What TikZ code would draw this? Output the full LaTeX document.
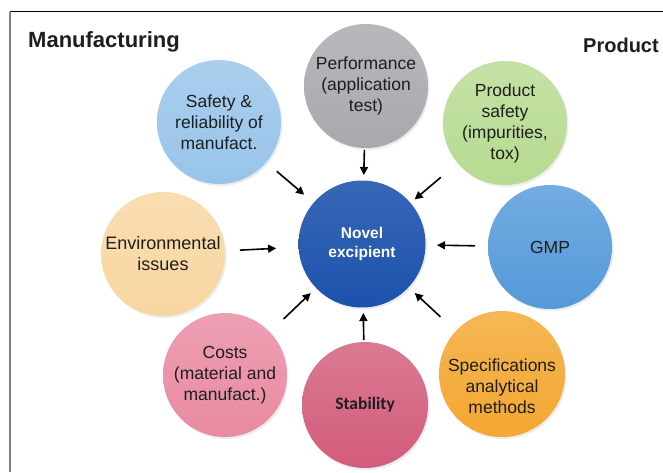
\documentclass[tikz,border=0pt]{standalone}
\usepackage{fontspec}
\setmainfont{Liberation Sans}
\newfontfamily\carlito{Carlito}
\usetikzlibrary{arrows.meta,calc,shadows}
\definecolor{txt}{HTML}{1E1E1E}
\definecolor{cgrey}{HTML}{A8A9AC}
\definecolor{csafe}{HTML}{98C4EA}
\definecolor{cgreen}{HTML}{B7DB91}
\definecolor{cpeach}{HTML}{F8D6A0}
\definecolor{cnovel}{HTML}{1C52AC}
\definecolor{cgmp}{HTML}{5499DA}
\definecolor{ccost}{HTML}{E98AA2}
\definecolor{cstab}{HTML}{D25C7B}
\definecolor{cspec}{HTML}{F3A730}
\tikzset{
  bubble/.style={circle, minimum size=124pt, inner sep=0pt, outer sep=0pt,
    top color=#1!82!white, bottom color=#1,
    drop shadow={opacity=0.15, shadow xshift=1.5pt, shadow yshift=-2pt},
    text=txt, align=center, font=\fontsize{17.5}{21}\selectfont},
  inarrow/.style={line width=1.6pt, -{Triangle[length=8pt,width=8pt]}},
  heading/.style={anchor=base west, inner sep=0pt, text=txt}
}
\begin{document}
\begin{tikzpicture}[x=1pt,y=1pt]
\useasboundingbox (0,0) rectangle (663,472);
% frame
\coordinate (fTL) at (10,460);
\coordinate (fTR) at (663,460);
\coordinate (fBL) at (10,0);
\draw[black, line width=1pt] (fTL) -- (fTR);
\draw[gray, line width=1.6pt] (fTL) -- (fBL);
% headings
\node[heading, font=\fontsize{22}{26}\selectfont\bfseries] (manu) at (28,424) {Manufacturing};
\node[heading, font=\fontsize{20}{24}\selectfont\bfseries] (prod) at (583,419) {Product};
% circles
\node[bubble=cgrey] (perf) at (366,386) {Performance\\(application\\test)};
\node[bubble=csafe] (safe) at (219,350) {Safety \&\\reliability of\\manufact.};
\node[bubble=cgreen] (green) at (505,349) {Product\\safety\\(impurities,\\tox)};
\node[bubble=cpeach, font=\fontsize{18}{21}\selectfont] (env) at (163,218) {Environmental\\issues};
\node[bubble=cnovel, top color=cnovel!88!white, minimum size=127pt, text=white, font=\fontsize{15.5}{18.5}\selectfont\bfseries] (novel) at (362,228) {Novel\\excipient};
\node[bubble=cgmp] (gmp) at (550,225) {GMP};
\node[bubble=ccost] (cost) at (225,97) {Costs\\(material and\\manufact.)};
\node[bubble=cstab, minimum size=126pt, font=\carlito\bfseries\fontsize{17.5}{20}\selectfont] (stab) at (365,67) {Stability};
\node[bubble=cspec, minimum size=126pt] (spec) at (502,98) {};
\node[text=txt, align=center, font=\fontsize{17.5}{21}\selectfont] (spect) at ($(spec)+(0,-12)$) {Specifications\\analytical\\methods};
% arrows
\draw[inarrow] ($(perf.center)!64pt!(novel.center)$) -- ($(novel.center)!69pt!(perf.center)$);
\draw[inarrow] ($(safe.center)!76pt!(novel.center)$) -- ($(novel.center)!76pt!(safe.center)$);
\draw[inarrow] ($(green.center)!84pt!(novel.center)$) -- ($(novel.center)!69pt!(green.center)$);
\draw[inarrow] ($(env.center)!77pt!(novel.center)$) -- ($(novel.center)!86pt!(env.center)$);
\draw[inarrow] ($(gmp.center)!75pt!(novel.center)$) -- ($(novel.center)!75pt!(gmp.center)$);
\draw[inarrow] ($(cost.center)!81pt!(novel.center)$) -- ($(novel.center)!71pt!(cost.center)$);
\draw[inarrow] ($(stab.center)!65pt!(novel.center)$) -- ($(novel.center)!69pt!(stab.center)$);
\draw[inarrow] ($(spec.center)!84pt!(novel.center)$) -- ($(novel.center)!72pt!(spec.center)$);
\end{tikzpicture}
\end{document}
